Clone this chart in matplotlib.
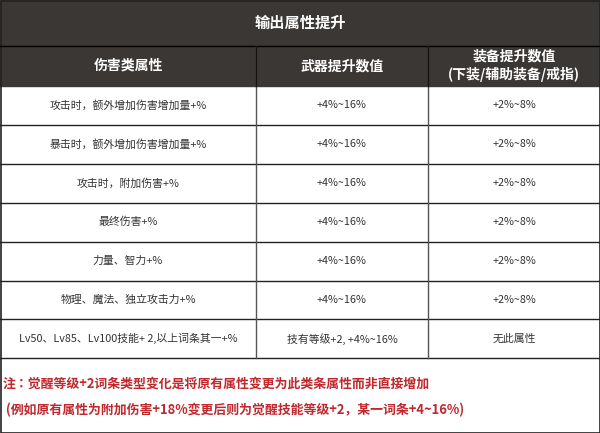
import matplotlib
matplotlib.use("Agg")
import matplotlib.pyplot as plt
from matplotlib import font_manager
from matplotlib.patches import Rectangle

cjk = [f for f in font_manager.fontManager.ttflist if "CJK" in f.name or "CJK" in f.fname]
fams = sorted(set(f.name for f in cjk))
plt.rcParams["font.family"] = fams[:1] + ["DejaVu Sans"] if fams else ["DejaVu Sans"]

title = "输出属性提升"
headers = ["伤害类属性", "武器提升数值", "装备提升数值\n(下装/辅助装备/戒指)"]
attrs = ["攻击时，额外增加伤害增加量+%", "暴击时，额外增加伤害增加量+%", "攻击时，附加伤害+%",
         "最终伤害+%", "力量、智力+%", "物理、魔法、独立攻击力+%",
         "Lv50、Lv85、Lv100技能+ 2,以上词条其一+%"]
weapon = ["+4%~16%"] * 6 + ["技有等级+2, +4%~16%"]
equip = ["+2%~8%"] * 6 + ["无此属性"]
note = ["注：觉醒等级+2词条类型变化是将原有属性变更为此类条属性而非直接增加",
        " (例如原有属性为附加伤害+18%变更后则为觉醒技能等级+2，某一词条+4~16%)"]

W, H = 600, 433
cols = [0, 256, 428, 600]
head_top, head_bot = 46, 86
row_h = 38.9
dark = "#3b3735"

fig = plt.figure(figsize=(6, 4.33), dpi=100)
ax = fig.add_axes([0, 0, 1, 1])
ax.set_xlim(0, W)
ax.set_ylim(H, 0)
ax.axis("off")

ax.add_patch(Rectangle((0, 0), W, head_bot, color=dark))
ax.text(W / 2, 23, title, color="white", fontsize=11, fontweight="bold", ha="center", va="center")
ax.plot([0, W], [head_top, head_top], color="black", lw=1)
for i, h in enumerate(headers):
    ax.text((cols[i] + cols[i + 1]) / 2, (head_top + head_bot) / 2, h, color="white",
            fontsize=10, fontweight="bold", ha="center", va="center", linespacing=1.25)

for r in range(len(attrs)):
    yc = head_bot + row_h * (r + 0.5)
    for i, txt in enumerate([attrs[r], weapon[r], equip[r]]):
        ax.text((cols[i] + cols[i + 1]) / 2, yc, txt, color="#333333", fontsize=7.8,
                ha="center", va="center")
    ax.plot([0, W], [head_bot + row_h * (r + 1)] * 2, color="#222222", lw=1)

table_bot = head_bot + row_h * len(attrs)
for x in cols[1:3]:
    ax.plot([x, x], [head_top, table_bot], color="#555555", lw=1)
    ax.plot([x, x], [head_top, head_bot], color="#111111", lw=1)

ax.text(3, 384, note[0], color="#c0282d", fontsize=9.3, fontweight="bold", ha="left", va="center")
ax.text(3, 410, note[1], color="#c0282d", fontsize=9.3, fontweight="bold", ha="left", va="center")

ax.add_patch(Rectangle((0.5, 0.5), W - 1, H - 1, fill=False, ec="#222222", lw=1.2))

fig.savefig("out.png", dpi=100, facecolor="white")
